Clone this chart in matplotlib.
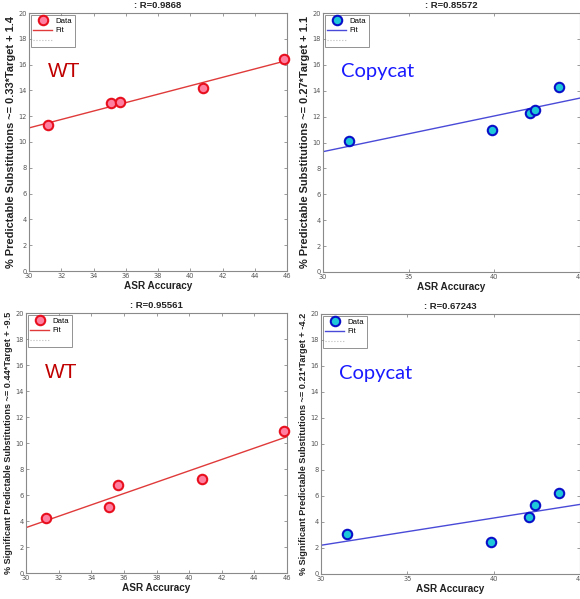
import numpy as np
import matplotlib
matplotlib.use("Agg")
import matplotlib.pyplot as plt
from matplotlib.lines import Line2D

# ---- data ----
wt_x = [31.2, 35.1, 35.65, 40.8, 45.8]
wt_pred = [11.3, 13.05, 13.1, 14.2, 16.4]
wt_sig = [4.25, 5.1, 6.75, 7.25, 10.95]
cc_x = [31.5, 39.87, 42.07, 42.38, 43.8]
cc_pred = [10.1, 11.0, 12.3, 12.5, 14.25]
cc_sig = [3.1, 2.45, 4.4, 5.3, 6.2]

titles = [": R=0.9868", ": R=0.85572", ": R=0.95561", ": R=0.67243"]
ylabels = ["% Predictable Substitutions ~= 0.33*Target + 1.4",
           "% Predictable Substitutions ~= 0.27*Target + 1.1",
           "% Significant Predictable Substitutions ~= 0.44*Target + -9.5",
           "% Significant Predictable Substitutions ~= 0.21*Target + -4.2"]
xlabel = "ASR Accuracy"
groups = ["WT", "Copycat", "WT", "Copycat"]

W, H = 580, 599
fig = plt.figure(figsize=(W / 100, H / 100), dpi=100)
fig.patch.set_facecolor("white")

def rect(x0, y0, x1, y1):
    return [x0 / W, 1 - y1 / H, (x1 - x0) / W, (y1 - y0) / H]

rects = [rect(29, 13, 287, 271), rect(323, 13, 580, 272),
         rect(26, 313, 287, 573), rect(321, 314, 580, 574)]

panels = [
    (wt_x, wt_pred, 46, np.arange(30, 47, 2)),
    (cc_x, cc_pred, 45, np.arange(30, 46, 5)),
    (wt_x, wt_sig, 46, np.arange(30, 47, 2)),
    (cc_x, cc_sig, 45, np.arange(30, 46, 5)),
]

styles = {
    "WT": dict(face="#ff7fa0", edge="#e8101e", line="#e03a3a", txt="#c00000",
               font="Liberation Sans", fs=15),
    "Copycat": dict(face="#1ec8d8", edge="#0a10c8", line="#4a4ad8", txt="#1a1aff",
                    font="Lato", fs=14.5),
}

spine_c = "#8a8a8a"
tick_c = "#555555"

for i, (xs, ys, xmax, xt) in enumerate(panels):
    ax = fig.add_axes(rects[i])
    st = styles[groups[i]]
    xs = np.asarray(xs); ys = np.asarray(ys)
    k, b = np.polyfit(xs, ys, 1)
    xx = np.array([30, xmax])
    ax.plot(xs, ys, "o", ms=6.8, mfc=st["face"], mec=st["edge"], mew=1.5,
            label="Data", zorder=3, clip_on=False)
    ax.plot(xx, k * xx + b, "-", color=st["line"], lw=1.0, label="Fit", zorder=2)
    ax.set_xlim(30, xmax)
    ax.set_ylim(0, 20)
    ax.set_xticks(xt)
    ax.set_yticks(np.arange(0, 21, 2))
    ax.tick_params(direction="in", length=2.5, width=0.6, colors=spine_c,
                   labelcolor=tick_c, labelsize=4.8, pad=1.5,
                   top=True, right=True)
    for s in ax.spines.values():
        s.set_color(spine_c)
        s.set_linewidth(0.8)
    ax.set_title(titles[i], fontsize=6.8, fontweight="bold",
                 family="Liberation Sans", pad=3.5, color="#222222")
    ax.set_xlabel(xlabel, fontsize=7.2, fontweight="bold",
                  family="Liberation Sans", labelpad=1.5, color="#222222")
    ax.set_ylabel(ylabels[i], fontsize=7.9 if i < 2 else 6.6, fontweight="bold",
                  family="Liberation Sans", labelpad=1.5, color="#222222")
    ax.text(31.15 if groups[i] == "WT" else 31.05, 15.45, groups[i],
            fontsize=st["fs"], color=st["txt"], family=st["font"],
            ha="left", va="center")
    h, l = ax.get_legend_handles_labels()
    h.append(Line2D([], [], color="#bbbbbb", ls=":", lw=0.8))
    l.append(" ")
    leg = ax.legend(h, l, loc="upper left", frameon=True,
                    fancybox=False, edgecolor="#777777", borderaxespad=0.25,
                    handlelength=2.4, handletextpad=0.5, borderpad=0.3,
                    labelspacing=0.3, prop={"family": "Liberation Sans", "size": 5.6})
    leg.get_frame().set_linewidth(0.7)

fig.savefig("out.png", dpi=100, facecolor="white")
